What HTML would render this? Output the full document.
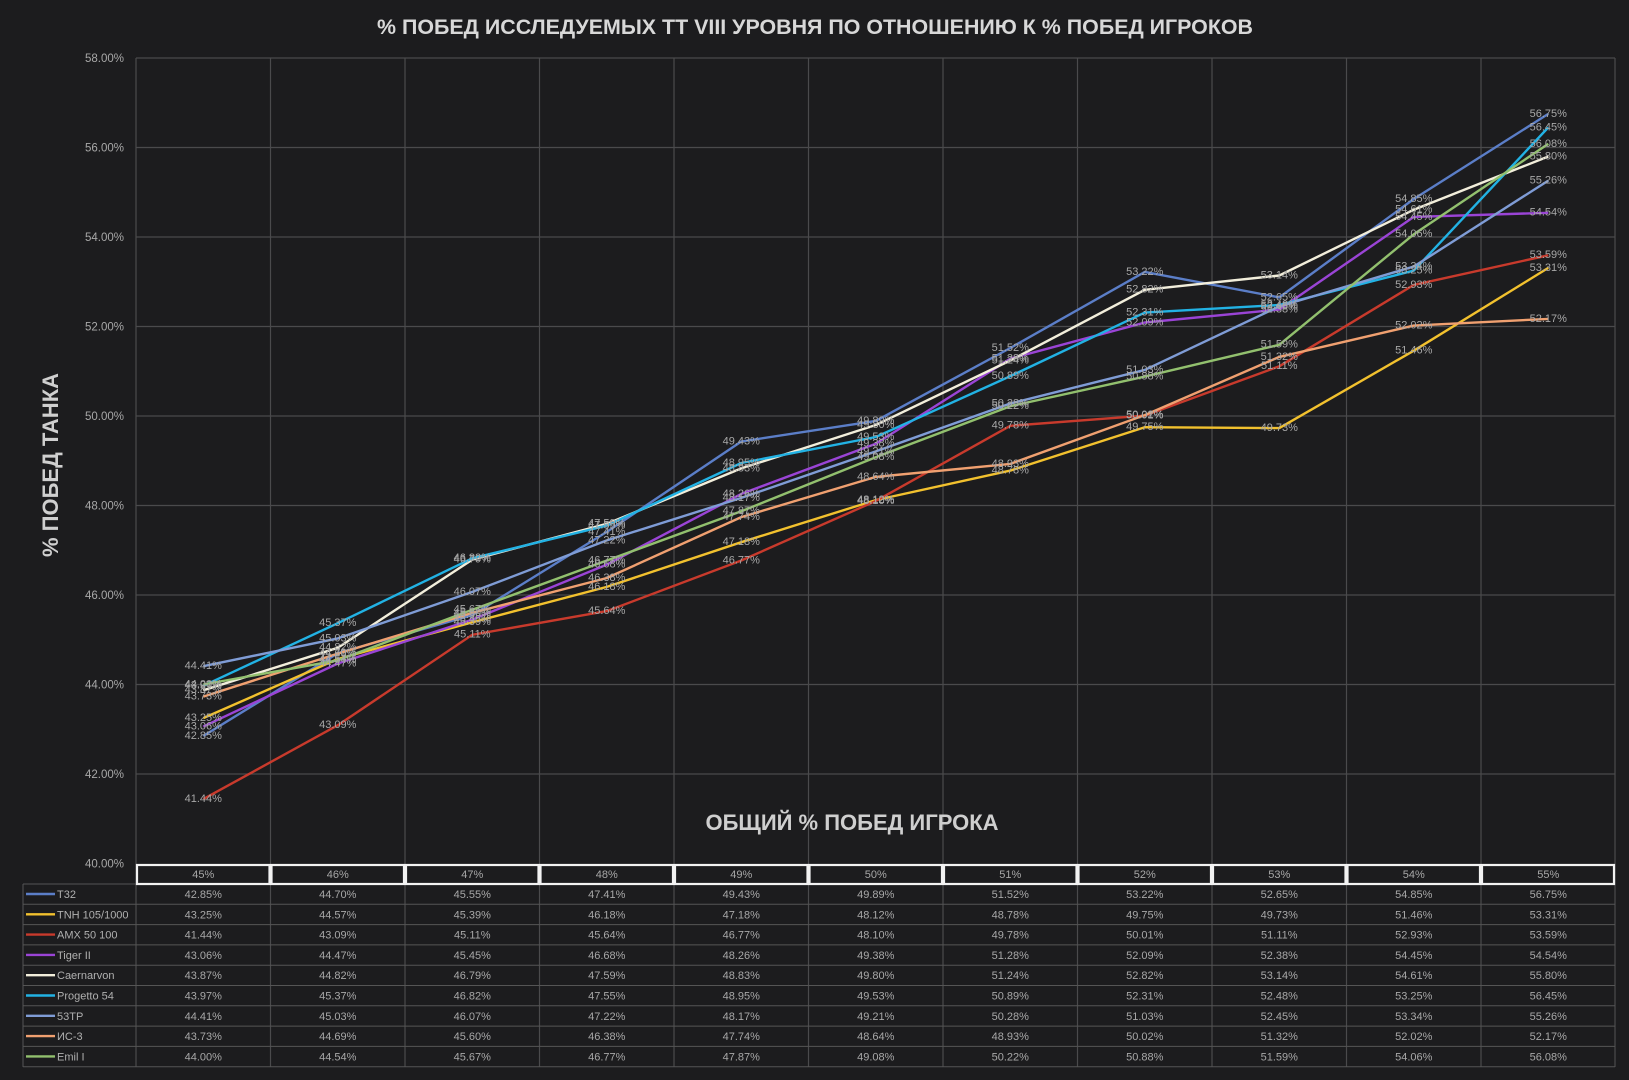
<!DOCTYPE html>
<html><head><meta charset="utf-8"><style>
html,body{margin:0;padding:0;background:#1c1c1e;}
svg{display:block}
text{font-family:"Liberation Sans","DejaVu Sans",sans-serif;}
</style></head><body>
<svg width="1629" height="1080" viewBox="0 0 1629 1080" xmlns="http://www.w3.org/2000/svg">
<rect width="1629" height="1080" fill="#1c1c1e"/>
<text x="815" y="34" text-anchor="middle" font-size="21" font-weight="bold" fill="#d8d8d8" textLength="876" lengthAdjust="spacingAndGlyphs">% ПОБЕД ИССЛЕДУЕМЫХ ТТ VIII УРОВНЯ ПО ОТНОШЕНИЮ К % ПОБЕД ИГРОКОВ</text>
<!-- grid -->
<g stroke="#4a4a4c" stroke-width="1.2">
<line x1="136" y1="58" x2="1615" y2="58"/><line x1="136" y1="147.5" x2="1615" y2="147.5"/><line x1="136" y1="237" x2="1615" y2="237"/><line x1="136" y1="326.5" x2="1615" y2="326.5"/><line x1="136" y1="416" x2="1615" y2="416"/><line x1="136" y1="505.5" x2="1615" y2="505.5"/><line x1="136" y1="595" x2="1615" y2="595"/><line x1="136" y1="684.5" x2="1615" y2="684.5"/><line x1="136" y1="774" x2="1615" y2="774"/>
<line x1="136" y1="58" x2="136" y2="1067"/><line x1="270.5" y1="58" x2="270.5" y2="1067"/><line x1="405" y1="58" x2="405" y2="1067"/><line x1="539.5" y1="58" x2="539.5" y2="1067"/><line x1="674" y1="58" x2="674" y2="1067"/><line x1="808.5" y1="58" x2="808.5" y2="1067"/><line x1="943" y1="58" x2="943" y2="1067"/><line x1="1077.5" y1="58" x2="1077.5" y2="1067"/><line x1="1212" y1="58" x2="1212" y2="1067"/><line x1="1346.5" y1="58" x2="1346.5" y2="1067"/><line x1="1481" y1="58" x2="1481" y2="1067"/><line x1="1615" y1="58" x2="1615" y2="1067"/>
</g>
<g font-size="11.5" fill="#a8a8a8" text-anchor="end">
<text x="124" y="62">58.00%</text><text x="124" y="151.5">56.00%</text><text x="124" y="241">54.00%</text><text x="124" y="330.5">52.00%</text><text x="124" y="420">50.00%</text><text x="124" y="509.5">48.00%</text><text x="124" y="599">46.00%</text><text x="124" y="688.5">44.00%</text><text x="124" y="778">42.00%</text><text x="124" y="867.5">40.00%</text>
</g>
<text transform="translate(58,465) rotate(-90)" text-anchor="middle" font-size="22" font-weight="bold" fill="#cfcfcf">% ПОБЕД ТАНКА</text>
<text x="852" y="830" text-anchor="middle" font-size="22" font-weight="bold" fill="#cfcfcf">ОБЩИЙ % ПОБЕД ИГРОКА</text>
<!-- series -->
<g fill="none" stroke-width="2.4" stroke-linejoin="round">
<polyline stroke="#5b7ec8" points="203.3,736 337.8,653.2 472.3,615.1 606.8,531.9 741.3,441.5 875.8,420.9 1010.3,348 1144.8,271.9 1279.3,297.4 1413.8,199 1548.3,113.9"/>
<polyline stroke="#f2c12e" points="203.3,718.1 337.8,659 472.3,622.3 606.8,586.9 741.3,542.2 875.8,500.1 1010.3,470.6 1144.8,427.2 1279.3,428.1 1413.8,350.7 1548.3,267.9"/>
<polyline stroke="#c83a2c" points="203.3,799.1 337.8,725.2 472.3,634.8 606.8,611.1 741.3,560.5 875.8,501 1010.3,425.8 1144.8,415.6 1279.3,366.3 1413.8,284.9 1548.3,255.3"/>
<polyline stroke="#9a44d6" points="203.3,726.6 337.8,663.5 472.3,619.6 606.8,564.6 741.3,493.9 875.8,443.7 1010.3,358.7 1144.8,322.5 1279.3,309.5 1413.8,216.9 1548.3,212.8"/>
<polyline stroke="#f2eedb" points="203.3,690.3 337.8,647.8 472.3,559.6 606.8,523.8 741.3,468.4 875.8,425 1010.3,360.5 1144.8,289.8 1279.3,275.5 1413.8,209.7 1548.3,156.5"/>
<polyline stroke="#22b2e4" points="203.3,685.8 337.8,623.2 472.3,558.3 606.8,525.6 741.3,463 875.8,437 1010.3,376.2 1144.8,312.6 1279.3,305 1413.8,270.6 1548.3,127.4"/>
<polyline stroke="#7f9cd6" points="203.3,666.2 337.8,638.4 472.3,591.9 606.8,540.4 741.3,497.9 875.8,451.4 1010.3,403.5 1144.8,369.9 1279.3,306.4 1413.8,266.5 1548.3,180.6"/>
<polyline stroke="#f0a070" points="203.3,696.6 337.8,653.6 472.3,612.9 606.8,578 741.3,517.1 875.8,476.9 1010.3,463.9 1144.8,415.1 1279.3,356.9 1413.8,325.6 1548.3,318.9"/>
<polyline stroke="#92c06e" points="203.3,684.5 337.8,660.3 472.3,609.8 606.8,560.5 741.3,511.3 875.8,457.2 1010.3,406.2 1144.8,376.6 1279.3,344.8 1413.8,234.3 1548.3,143.9"/>
</g>
<!-- point labels -->
<g font-size="11" fill="#a8a8a8" text-anchor="middle" dominant-baseline="middle">
<text x="203.3" y="736">42.85%</text><text x="337.8" y="653.2">44.70%</text><text x="472.3" y="615.1">45.55%</text><text x="606.8" y="531.9">47.41%</text><text x="741.3" y="441.5">49.43%</text><text x="875.8" y="420.9">49.89%</text><text x="1010.3" y="348">51.52%</text><text x="1144.8" y="271.9">53.22%</text><text x="1279.3" y="297.4">52.65%</text><text x="1413.8" y="199">54.85%</text><text x="1548.3" y="113.9">56.75%</text>
<text x="203.3" y="718.1">43.25%</text><text x="337.8" y="659">44.57%</text><text x="472.3" y="622.3">45.39%</text><text x="606.8" y="586.9">46.18%</text><text x="741.3" y="542.2">47.18%</text><text x="875.8" y="500.1">48.12%</text><text x="1010.3" y="470.6">48.78%</text><text x="1144.8" y="427.2">49.75%</text><text x="1279.3" y="428.1">49.73%</text><text x="1413.8" y="350.7">51.46%</text><text x="1548.3" y="267.9">53.31%</text>
<text x="203.3" y="799.1">41.44%</text><text x="337.8" y="725.2">43.09%</text><text x="472.3" y="634.8">45.11%</text><text x="606.8" y="611.1">45.64%</text><text x="741.3" y="560.5">46.77%</text><text x="875.8" y="501">48.10%</text><text x="1010.3" y="425.8">49.78%</text><text x="1144.8" y="415.6">50.01%</text><text x="1279.3" y="366.3">51.11%</text><text x="1413.8" y="284.9">52.93%</text><text x="1548.3" y="255.3">53.59%</text>
<text x="203.3" y="726.6">43.06%</text><text x="337.8" y="663.5">44.47%</text><text x="472.3" y="619.6">45.45%</text><text x="606.8" y="564.6">46.68%</text><text x="741.3" y="493.9">48.26%</text><text x="875.8" y="443.7">49.38%</text><text x="1010.3" y="358.7">51.28%</text><text x="1144.8" y="322.5">52.09%</text><text x="1279.3" y="309.5">52.38%</text><text x="1413.8" y="216.9">54.45%</text><text x="1548.3" y="212.8">54.54%</text>
<text x="203.3" y="690.3">43.87%</text><text x="337.8" y="647.8">44.82%</text><text x="472.3" y="559.6">46.79%</text><text x="606.8" y="523.8">47.59%</text><text x="741.3" y="468.4">48.83%</text><text x="875.8" y="425">49.80%</text><text x="1010.3" y="360.5">51.24%</text><text x="1144.8" y="289.8">52.82%</text><text x="1279.3" y="275.5">53.14%</text><text x="1413.8" y="209.7">54.61%</text><text x="1548.3" y="156.5">55.80%</text>
<text x="203.3" y="685.8">43.97%</text><text x="337.8" y="623.2">45.37%</text><text x="472.3" y="558.3">46.82%</text><text x="606.8" y="525.6">47.55%</text><text x="741.3" y="463">48.95%</text><text x="875.8" y="437">49.53%</text><text x="1010.3" y="376.2">50.89%</text><text x="1144.8" y="312.6">52.31%</text><text x="1279.3" y="305">52.48%</text><text x="1413.8" y="270.6">53.25%</text><text x="1548.3" y="127.4">56.45%</text>
<text x="203.3" y="666.2">44.41%</text><text x="337.8" y="638.4">45.03%</text><text x="472.3" y="591.9">46.07%</text><text x="606.8" y="540.4">47.22%</text><text x="741.3" y="497.9">48.17%</text><text x="875.8" y="451.4">49.21%</text><text x="1010.3" y="403.5">50.28%</text><text x="1144.8" y="369.9">51.03%</text><text x="1279.3" y="306.4">52.45%</text><text x="1413.8" y="266.5">53.34%</text><text x="1548.3" y="180.6">55.26%</text>
<text x="203.3" y="696.6">43.73%</text><text x="337.8" y="653.6">44.69%</text><text x="472.3" y="612.9">45.60%</text><text x="606.8" y="578">46.38%</text><text x="741.3" y="517.1">47.74%</text><text x="875.8" y="476.9">48.64%</text><text x="1010.3" y="463.9">48.93%</text><text x="1144.8" y="415.1">50.02%</text><text x="1279.3" y="356.9">51.32%</text><text x="1413.8" y="325.6">52.02%</text><text x="1548.3" y="318.9">52.17%</text>
<text x="203.3" y="684.5">44.00%</text><text x="337.8" y="660.3">44.54%</text><text x="472.3" y="609.8">45.67%</text><text x="606.8" y="560.5">46.77%</text><text x="741.3" y="511.3">47.87%</text><text x="875.8" y="457.2">49.08%</text><text x="1010.3" y="406.2">50.22%</text><text x="1144.8" y="376.6">50.88%</text><text x="1279.3" y="344.8">51.59%</text><text x="1413.8" y="234.3">54.06%</text><text x="1548.3" y="143.9">56.08%</text>
</g>
<!-- table -->
<rect x="136" y="864" width="1479" height="20" fill="#1c1c1e"/>
<g stroke="#555" stroke-width="1">
<line x1="23" y1="884" x2="1615" y2="884"/><line x1="23" y1="904.3" x2="1615" y2="904.3"/><line x1="23" y1="924.6" x2="1615" y2="924.6"/><line x1="23" y1="944.9" x2="1615" y2="944.9"/><line x1="23" y1="965.2" x2="1615" y2="965.2"/><line x1="23" y1="985.5" x2="1615" y2="985.5"/><line x1="23" y1="1005.8" x2="1615" y2="1005.8"/><line x1="23" y1="1026.1" x2="1615" y2="1026.1"/><line x1="23" y1="1046.4" x2="1615" y2="1046.4"/><line x1="23" y1="1066.7" x2="1615" y2="1066.7"/>
<line x1="23" y1="884" x2="23" y2="1067"/>
</g>
<g fill="none" stroke="#f2f2f2" stroke-width="2.2">
<rect x="137" y="865" width="132.5" height="19"/><rect x="271.5" y="865" width="132.5" height="19"/><rect x="406" y="865" width="132.5" height="19"/><rect x="540.5" y="865" width="132.5" height="19"/><rect x="675" y="865" width="132.5" height="19"/><rect x="809.5" y="865" width="132.5" height="19"/><rect x="944" y="865" width="132.5" height="19"/><rect x="1078.5" y="865" width="132.5" height="19"/><rect x="1213" y="865" width="132.5" height="19"/><rect x="1347.5" y="865" width="132.5" height="19"/><rect x="1482" y="865" width="132" height="19"/>
</g>
<g font-size="11" fill="#a8a8a8" text-anchor="middle">
<text x="203.3" y="878">45%</text><text x="337.8" y="878">46%</text><text x="472.3" y="878">47%</text><text x="606.8" y="878">48%</text><text x="741.3" y="878">49%</text><text x="875.8" y="878">50%</text><text x="1010.3" y="878">51%</text><text x="1144.8" y="878">52%</text><text x="1279.3" y="878">53%</text><text x="1413.8" y="878">54%</text><text x="1548.3" y="878">55%</text>
</g>
<g stroke-width="2.4">
<line x1="26" y1="894" x2="55" y2="894" stroke="#5b7ec8"/>
<line x1="26" y1="914.3" x2="55" y2="914.3" stroke="#f2c12e"/>
<line x1="26" y1="934.6" x2="55" y2="934.6" stroke="#c83a2c"/>
<line x1="26" y1="954.9" x2="55" y2="954.9" stroke="#9a44d6"/>
<line x1="26" y1="975.2" x2="55" y2="975.2" stroke="#f2eedb"/>
<line x1="26" y1="995.5" x2="55" y2="995.5" stroke="#22b2e4"/>
<line x1="26" y1="1015.8" x2="55" y2="1015.8" stroke="#7f9cd6"/>
<line x1="26" y1="1036.1" x2="55" y2="1036.1" stroke="#f0a070"/>
<line x1="26" y1="1056.4" x2="55" y2="1056.4" stroke="#92c06e"/>
</g>
<g font-size="11" fill="#b0b0b0">
<text x="57" y="898">T32</text><text x="57" y="918.3">TNH 105/1000</text><text x="57" y="938.6">AMX 50 100</text><text x="57" y="958.9">Tiger II</text><text x="57" y="979.2">Caernarvon</text><text x="57" y="999.5">Progetto 54</text><text x="57" y="1019.8">53TP</text><text x="57" y="1040.1">ИС-3</text><text x="57" y="1060.4">Emil I</text>
</g>
<g font-size="11" fill="#a8a8a8" text-anchor="middle">
<text y="898"><tspan x="203.3">42.85%</tspan><tspan x="337.8">44.70%</tspan><tspan x="472.3">45.55%</tspan><tspan x="606.8">47.41%</tspan><tspan x="741.3">49.43%</tspan><tspan x="875.8">49.89%</tspan><tspan x="1010.3">51.52%</tspan><tspan x="1144.8">53.22%</tspan><tspan x="1279.3">52.65%</tspan><tspan x="1413.8">54.85%</tspan><tspan x="1548.3">56.75%</tspan></text>
<text y="918.3"><tspan x="203.3">43.25%</tspan><tspan x="337.8">44.57%</tspan><tspan x="472.3">45.39%</tspan><tspan x="606.8">46.18%</tspan><tspan x="741.3">47.18%</tspan><tspan x="875.8">48.12%</tspan><tspan x="1010.3">48.78%</tspan><tspan x="1144.8">49.75%</tspan><tspan x="1279.3">49.73%</tspan><tspan x="1413.8">51.46%</tspan><tspan x="1548.3">53.31%</tspan></text>
<text y="938.6"><tspan x="203.3">41.44%</tspan><tspan x="337.8">43.09%</tspan><tspan x="472.3">45.11%</tspan><tspan x="606.8">45.64%</tspan><tspan x="741.3">46.77%</tspan><tspan x="875.8">48.10%</tspan><tspan x="1010.3">49.78%</tspan><tspan x="1144.8">50.01%</tspan><tspan x="1279.3">51.11%</tspan><tspan x="1413.8">52.93%</tspan><tspan x="1548.3">53.59%</tspan></text>
<text y="958.9"><tspan x="203.3">43.06%</tspan><tspan x="337.8">44.47%</tspan><tspan x="472.3">45.45%</tspan><tspan x="606.8">46.68%</tspan><tspan x="741.3">48.26%</tspan><tspan x="875.8">49.38%</tspan><tspan x="1010.3">51.28%</tspan><tspan x="1144.8">52.09%</tspan><tspan x="1279.3">52.38%</tspan><tspan x="1413.8">54.45%</tspan><tspan x="1548.3">54.54%</tspan></text>
<text y="979.2"><tspan x="203.3">43.87%</tspan><tspan x="337.8">44.82%</tspan><tspan x="472.3">46.79%</tspan><tspan x="606.8">47.59%</tspan><tspan x="741.3">48.83%</tspan><tspan x="875.8">49.80%</tspan><tspan x="1010.3">51.24%</tspan><tspan x="1144.8">52.82%</tspan><tspan x="1279.3">53.14%</tspan><tspan x="1413.8">54.61%</tspan><tspan x="1548.3">55.80%</tspan></text>
<text y="999.5"><tspan x="203.3">43.97%</tspan><tspan x="337.8">45.37%</tspan><tspan x="472.3">46.82%</tspan><tspan x="606.8">47.55%</tspan><tspan x="741.3">48.95%</tspan><tspan x="875.8">49.53%</tspan><tspan x="1010.3">50.89%</tspan><tspan x="1144.8">52.31%</tspan><tspan x="1279.3">52.48%</tspan><tspan x="1413.8">53.25%</tspan><tspan x="1548.3">56.45%</tspan></text>
<text y="1019.8"><tspan x="203.3">44.41%</tspan><tspan x="337.8">45.03%</tspan><tspan x="472.3">46.07%</tspan><tspan x="606.8">47.22%</tspan><tspan x="741.3">48.17%</tspan><tspan x="875.8">49.21%</tspan><tspan x="1010.3">50.28%</tspan><tspan x="1144.8">51.03%</tspan><tspan x="1279.3">52.45%</tspan><tspan x="1413.8">53.34%</tspan><tspan x="1548.3">55.26%</tspan></text>
<text y="1040.1"><tspan x="203.3">43.73%</tspan><tspan x="337.8">44.69%</tspan><tspan x="472.3">45.60%</tspan><tspan x="606.8">46.38%</tspan><tspan x="741.3">47.74%</tspan><tspan x="875.8">48.64%</tspan><tspan x="1010.3">48.93%</tspan><tspan x="1144.8">50.02%</tspan><tspan x="1279.3">51.32%</tspan><tspan x="1413.8">52.02%</tspan><tspan x="1548.3">52.17%</tspan></text>
<text y="1060.4"><tspan x="203.3">44.00%</tspan><tspan x="337.8">44.54%</tspan><tspan x="472.3">45.67%</tspan><tspan x="606.8">46.77%</tspan><tspan x="741.3">47.87%</tspan><tspan x="875.8">49.08%</tspan><tspan x="1010.3">50.22%</tspan><tspan x="1144.8">50.88%</tspan><tspan x="1279.3">51.59%</tspan><tspan x="1413.8">54.06%</tspan><tspan x="1548.3">56.08%</tspan></text>
</g>
</svg>
</body></html>
